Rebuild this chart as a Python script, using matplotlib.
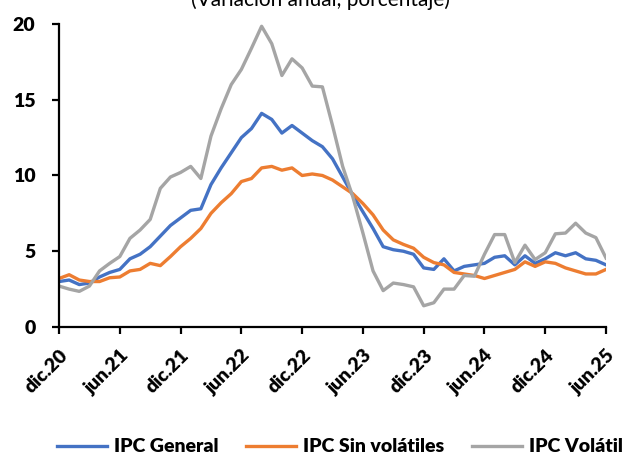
import numpy as np
import matplotlib.pyplot as plt

# monthly, dic.20 .. jun.25
ipc_general = [3.0, 3.1, 2.8, 2.9, 3.3, 3.6, 3.8, 4.5, 4.8, 5.3, 6.0, 6.7, 7.2,
               7.7, 7.8, 9.4, 10.5, 11.5, 12.5, 13.1, 14.1, 13.7, 12.8, 13.3, 12.8,
               12.3, 11.9, 11.1, 9.9, 8.7, 7.6, 6.5, 5.3, 5.1, 5.0, 4.8, 3.9,
               3.8, 4.5, 3.7, 4.0, 4.1, 4.2, 4.6, 4.7, 4.1, 4.7, 4.2, 4.5,
               4.9, 4.7, 4.9, 4.5, 4.4, 4.1]
ipc_sin_volatiles = [3.2, 3.45, 3.1, 3.0, 3.0, 3.25, 3.3, 3.7, 3.8, 4.2, 4.05, 4.65, 5.3,
                     5.85, 6.5, 7.5, 8.2, 8.8, 9.6, 9.8, 10.5, 10.6, 10.35, 10.5, 10.0,
                     10.1, 10.0, 9.7, 9.25, 8.8, 8.15, 7.4, 6.4, 5.75, 5.45, 5.2, 4.6,
                     4.25, 4.1, 3.6, 3.5, 3.4, 3.2, 3.4, 3.6, 3.8, 4.3, 4.0, 4.3,
                     4.2, 3.9, 3.7, 3.5, 3.5, 3.8]
ipc_volatil = [2.7, 2.5, 2.35, 2.7, 3.7, 4.2, 4.65, 5.85, 6.4, 7.1, 9.15, 9.9, 10.2,
               10.6, 9.8, 12.6, 14.4, 16.0, 17.0, 18.4, 19.85, 18.7, 16.6, 17.7, 17.1,
               15.9, 15.85, 13.3, 10.6, 8.6, 6.2, 3.7, 2.4, 2.9, 2.8, 2.65, 1.4,
               1.6, 2.5, 2.5, 3.4, 3.35, 4.8, 6.1, 6.1, 4.25, 5.4, 4.45, 4.9,
               6.15, 6.2, 6.85, 6.2, 5.9, 4.55]
tick_labels = ["dic.20", "jun.21", "dic.21", "jun.22", "dic.22",
               "jun.23", "dic.23", "jun.24", "dic.24", "jun.25"]

plt.rcParams['font.family'] = ['Lato', 'DejaVu Sans']

fig = plt.figure(figsize=(6.28, 4.57), dpi=100)
ax = fig.add_axes([0.094, 0.2845, 0.871, 0.663])

x = np.arange(len(ipc_general))
ax.plot(x, ipc_general, color="#4472C4", lw=2.4, label="IPC General")
ax.plot(x, ipc_sin_volatiles, color="#ED7D31", lw=2.4, label="IPC Sin volátiles")
ax.plot(x, ipc_volatil, color="#A5A5A5", lw=2.4, label="IPC Volátil")

ax.set_xlim(0, len(x) - 1)
ax.set_ylim(0, 20)
ax.set_yticks([0, 5, 10, 15, 20])
ax.set_xticks(np.arange(0, len(x), 6))
ax.set_xticklabels(tick_labels, rotation=45, ha="right", va="top",
                   rotation_mode="anchor", fontsize=14, fontweight="heavy")
for lab in ax.get_yticklabels():
    lab.set_fontsize(14)
    lab.set_fontweight("heavy")

for s in ["top", "right"]:
    ax.spines[s].set_visible(False)
for s in ["left", "bottom"]:
    ax.spines[s].set_linewidth(1.6)
ax.tick_params(axis="both", direction="out", length=5, width=1.6)
ax.tick_params(axis="y", pad=12)
ax.tick_params(axis="x", pad=9)

fig.text(0.511, 1.0, "(Variación anual, porcentaje)", ha="center", va="center",
         fontsize=15)

fig.legend(loc="center", bbox_to_anchor=(0.541, 0.022), ncol=3, frameon=False,
           prop={"size": 14, "weight": "heavy"}, handlelength=2.6,
           handletextpad=0.35, columnspacing=1.4)

fig.savefig("out.png", dpi=100)
